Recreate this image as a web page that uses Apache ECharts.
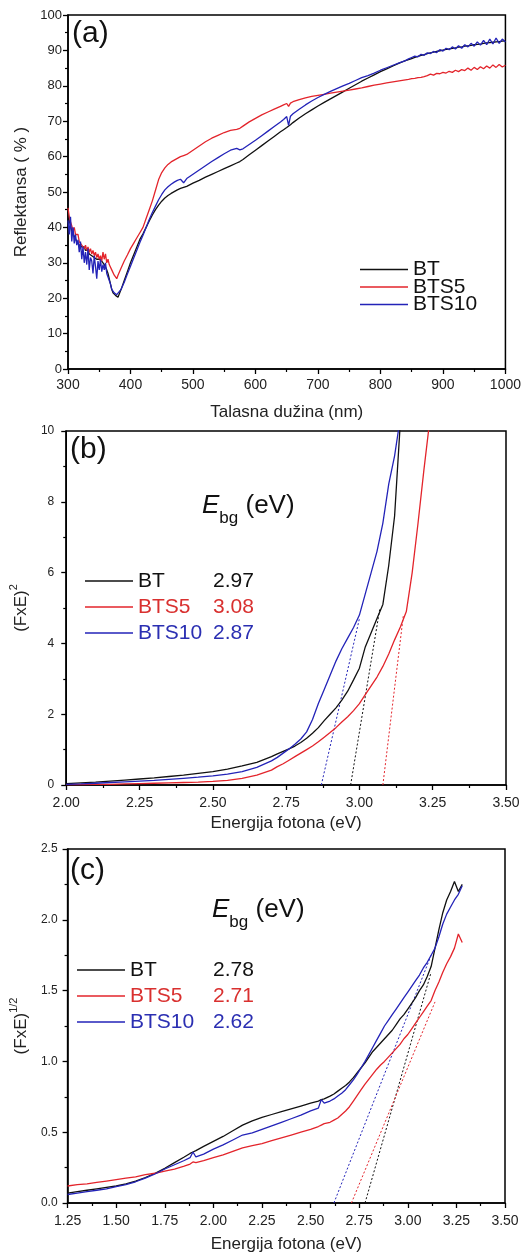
<!DOCTYPE html>
<html><head><meta charset="utf-8">
<script src="https://cdn.jsdelivr.net/npm/echarts@6.0.0/dist/echarts.min.js"></script>
<style>html,body{margin:0;padding:0;background:#fff}#c{width:524px;height:1254px}</style>
</head><body><div id="c"></div><script>
// ---------- Panel (a): Reflectance vs wavelength ----------
const aWave = [300,302,304,306,308,310,312,314,316,318,320,322,324,326,328,330,332,334,336,338,340,342,344,346,348,350,352,354,356,358,360,362,364,366,368,370,372,374,376,378,380,
385,390,395,400,405,410,415,420,425,430,435,440,445,450,455,460,465,470,475,480,
485,490,500,510,520,530,540,550,560,570,575,580,590,600,610,620,630,640,
645,650,653,656,660,670,680,690,700,710,720,730,740,750,760,770,780,790,800,810,820,830,840,
845,850,855,860,865,870,875,880,885,890,895,900,905,910,915,920,925,930,935,940,945,950,955,960,965,970,975,980,985,990,995,1000];
const aBT = [44,42,40.5,39,38.5,37.5,37,36,36.5,35,35.5,34.5,34,34.5,33.5,33,33.5,32.5,33,32,32.5,31.5,32,31,31.5,31,30.5,30.5,30,29.5,29,28,27,25.5,24,22.5,21.5,21,20.8,20.4,20.3,
22.5,25,27.5,30,32.2,34.4,36.6,38.2,40,41.8,43.5,45,46.3,47.4,48.3,49,49.6,50.1,50.6,51,
51.3,51.6,52.5,53.3,54.2,55,55.8,56.6,57.4,58.2,58.6,59.2,60.5,61.8,63.1,64.4,65.7,67,
67.6,68.2,68.6,69,69.6,70.9,72.1,73.2,74.3,75.3,76.3,77.3,78.3,79.3,80.3,81.3,82.2,83.1,84,84.8,85.6,86.4,87.1,
87.4,87.7,88,88.3,88.6,88.8,89.1,89.3,89.5,89.7,89.9,90.1,90.3,90.4,90.6,90.7,90.9,91,91.2,91.3,91.4,91.6,91.7,91.8,92,92.1,92.2,92.3,92.4,92.5,92.6,92.7];
const aBTS5 = [45.5,43,41.5,40.5,39,40,38,37.5,38,36,36.5,35,35.5,34,35,33.5,34.5,33,34,32.5,33.5,32,33,31.5,32.5,31,32,30.5,33,31,32.5,30,31,29.5,29,28,27.5,26.5,26,25.5,26.5,
28.5,30.5,32.2,34,35.5,37,38.5,40,42.5,45,47.5,50.5,53.5,55.5,56.8,57.8,58.5,59,59.5,60,
60.3,60.6,61.8,63,64.2,65.2,66,66.8,67.4,67.7,68,68.6,69.8,70.8,71.8,72.6,73.4,74.2,
74.6,75,74.2,75.1,75.5,76.1,76.6,77,77.3,77.6,77.9,78.2,78.5,78.8,79.1,79.4,79.8,80.2,80.5,80.8,81.1,81.4,81.7,
81.8,82,82.1,82.3,82.4,82.6,82.9,83.3,83,83.5,83.4,83.8,83.6,84.1,83.8,84.4,84,84.6,84.3,85,84.4,85.2,84.6,85.4,84.8,85.6,85,85.9,85.2,86,85.3,85.8];
const aBTS10 = [42,38,43,36,40,35.5,38,35,36.5,33,36,31,34.5,30,33,29.5,34,28,31.5,30.5,27,32,29,25.5,30.5,28,31,27.5,29.5,28,30,27,26,25,24,22.5,22,21.5,21.2,21,21.3,
22.5,24.5,26.8,29,31.3,33.5,35.7,37.8,40,42.2,44.2,46,47.8,49.3,50.6,51.5,52.2,52.8,53.3,53.6,
52.6,53.8,55,56.2,57.4,58.6,59.7,60.8,61.8,62.3,61.9,62.2,63.4,64.6,65.9,67.2,68.5,69.8,
70.5,71.3,68.8,71.4,72.1,73.4,74.6,75.7,76.7,77.6,78.4,79.2,80,80.7,81.5,82.3,82.9,83.6,84.4,85.1,85.8,86.5,87.1,
87.6,88,88.4,88.2,88.9,88.6,89.3,89.1,89.7,89.4,90.2,89.8,90.6,90.2,91,90.4,91.3,90.6,91.6,91,92,91.2,92.4,91.5,92.8,91.6,93.2,91.8,93.5,92,93.2,92.4];

// ---------- Panel (b): (FxE)^2 vs photon energy ----------
const bE = [2.00,2.05,2.10,2.15,2.20,2.25,2.30,2.35,2.40,2.45,2.50,2.55,2.60,2.65,2.70,
2.72,2.74,2.76,2.78,2.80,2.82,2.84,2.86,2.88,2.90,2.92,2.94,2.96,2.98,3.00,3.02,3.04,3.06,3.08,3.10,3.12,3.14,3.16,3.18,3.20,3.22,3.24];
const bBT = [0.04,0.06,0.08,0.11,0.14,0.17,0.2,0.24,0.28,0.33,0.38,0.45,0.54,0.64,0.8,
0.88,0.95,1.02,1.1,1.2,1.32,1.46,1.62,1.82,2.0,2.18,2.4,2.65,2.97,3.3,3.9,4.3,4.7,5.1,6.2,7.6,10.3,null,null,null,null,null];
const bBTS5 = [0.01,0.01,0.02,0.02,0.03,0.04,0.05,0.06,0.07,0.08,0.1,0.13,0.19,0.28,0.42,
0.52,0.6,0.7,0.8,0.9,1.0,1.1,1.22,1.35,1.48,1.62,1.78,1.93,2.1,2.3,2.55,2.8,3.05,3.35,3.7,4.1,4.47,4.9,6.0,7.4,8.9,10.3];
const bBTS10 = [0.02,0.03,0.05,0.07,0.09,0.11,0.13,0.16,0.19,0.22,0.26,0.31,0.38,0.5,0.68,
0.78,0.9,1.02,1.15,1.3,1.5,1.85,2.3,2.7,3.1,3.5,3.85,4.15,4.45,4.8,5.4,6.0,6.6,7.4,8.5,9.3,10.4,null,null,null,null,null];
const bGap = ['2.97','3.08','2.87'];
const bFitX_BT = [2.97, 3.07], bFitY_BT = [0, 5.0];
const bFitX_BTS5 = [3.08, 3.15], bFitY_BTS5 = [0, 4.8];
const bFitX_BTS10 = [2.87, 3.00], bFitY_BTS10 = [0, 4.7];

// ---------- Panel (c): (FxE)^1/2 vs photon energy ----------
const cE = [1.25,1.30,1.35,1.40,1.45,1.50,1.55,1.60,1.65,1.70,1.75,1.80,1.85,1.88,1.895,1.91,
1.95,2.00,2.05,2.10,2.15,2.20,2.25,2.30,2.35,2.40,2.45,2.50,2.54,2.555,2.57,
2.60,2.62,2.64,2.66,2.68,2.70,2.72,2.74,2.76,2.78,2.80,2.82,2.84,2.86,2.88,2.90,2.92,2.94,2.96,2.98,3.00,3.02,3.04,3.06,3.08,3.10,3.12,3.14,3.16,3.18,3.20,3.22,3.24,3.26,3.28];
const cBT = [0.07,0.08,0.09,0.1,0.11,0.12,0.135,0.155,0.18,0.21,0.245,0.285,0.325,0.35,0.36,0.37,
0.4,0.435,0.47,0.51,0.55,0.58,0.605,0.625,0.645,0.665,0.685,0.705,0.72,0.73,0.735,
0.755,0.77,0.79,0.81,0.83,0.855,0.885,0.92,0.955,0.99,1.03,1.07,1.1,1.13,1.16,1.19,1.22,1.26,1.3,1.33,1.37,1.41,1.45,1.5,1.54,1.6,1.67,1.8,1.93,2.05,2.14,2.2,2.27,2.2,2.25];
const cBTS5 = [0.12,0.13,0.135,0.145,0.155,0.165,0.175,0.185,0.2,0.21,0.225,0.24,0.26,0.275,0.29,0.285,
0.3,0.32,0.34,0.365,0.39,0.405,0.42,0.44,0.46,0.48,0.5,0.52,0.54,0.55,0.56,
0.57,0.585,0.6,0.625,0.65,0.68,0.72,0.76,0.8,0.84,0.875,0.91,0.945,0.975,1.0,1.03,1.06,1.09,1.12,1.16,1.19,1.23,1.27,1.31,1.35,1.39,1.43,1.5,1.56,1.63,1.69,1.74,1.8,1.9,1.84];
const cBTS10 = [0.06,0.07,0.08,0.09,0.1,0.115,0.13,0.15,0.175,0.205,0.24,0.27,0.3,0.32,0.36,0.325,
0.345,0.38,0.41,0.445,0.48,0.495,0.52,0.545,0.57,0.595,0.62,0.65,0.67,0.73,0.705,
0.72,0.735,0.755,0.775,0.8,0.835,0.87,0.91,0.955,1.0,1.05,1.1,1.15,1.2,1.25,1.29,1.33,1.37,1.41,1.45,1.49,1.53,1.57,1.61,1.66,1.7,1.75,1.8,1.88,1.97,2.04,2.09,2.14,2.18,2.24];
const cGap = ['2.78','2.71','2.62'];
const cFitX_BT = [2.78, 3.12], cFitY_BT = [0, 1.63];
const cFitX_BTS5 = [2.71, 3.14], cFitY_BTS5 = [0, 1.42];
const cFitX_BTS10 = [2.62, 3.12], cFitY_BTS10 = [0, 1.75];

const names = ['BT','BTS5','BTS10'];
const colors = {BT:'#111111', BTS5:'#e3242b', BTS10:'#2323b8'};
const textColors = {BT:'#111111', BTS5:'#d9302f', BTS10:'#2b2fb2'};
const FONT = 'Liberation Sans, Arial, sans-serif';

function pairs(xs, ys){ const o=[]; for(let i=0;i<xs.length;i++){ if(ys[i]!=null) o.push([xs[i], ys[i]]); } return o; }
function line(name, xs, ys, g, dashed){
  return {type:'line', name: dashed ? name+' fit' : name, xAxisIndex:g, yAxisIndex:g, data:pairs(xs,ys),
    symbol:'none', showSymbol:false, clip:true, silent:true, animation:false, z: dashed?1:2,
    lineStyle:{color:colors[name], width: dashed?1:1.3, type: dashed?[2,2]:'solid'}, itemStyle:{color:colors[name]}};
}
function xAx(g, min, max, interval, dec, nameGap, margin){
  return {type:'value', gridIndex:g, min, max, interval, name:'', nameLocation:'middle', nameGap,
    nameTextStyle:{fontSize:17, color:'#222', fontFamily:FONT},
    axisLine:{show:true, onZero:false, lineStyle:{color:'#000', width:1.5}},
    axisTick:{show:true, inside:false, length:5, lineStyle:{color:'#000', width:1.3}},
    minorTick:{show:true, splitNumber:2, length:3, lineStyle:{color:'#000', width:1.2}},
    splitLine:{show:false},
    axisLabel:{fontSize:14, color:'#222', margin, fontFamily:FONT, formatter: v => v.toFixed(dec)}};
}
function yAx(g, min, max, interval, dec, fs, nameGap, margin){
  return {type:'value', gridIndex:g, min, max, interval, nameLocation:'middle', nameGap,
    nameTextStyle:{fontSize:17, color:'#222', fontFamily:FONT},
    axisLine:{show:true, onZero:false, lineStyle:{color:'#000', width:1.5}},
    axisTick:{show:true, inside:false, length:5, lineStyle:{color:'#000', width:1.3}},
    minorTick:{show:true, splitNumber:2, length:3, lineStyle:{color:'#000', width:1.2}},
    splitLine:{show:false},
    axisLabel:{fontSize:fs, color:'#222', margin, fontFamily:FONT, formatter: v => v.toFixed(dec)}};
}
function gapLegend(left, top, vals, nameW){
  const m = {}; names.forEach((n,i)=> m[n]=vals[i]);
  return {orient:'vertical', left, top, padding:0, icon:'rect', itemWidth:48, itemHeight:1.5, itemGap:4, selectedMode:false,
    data: names.map(n => ({name:n, textStyle:{color:textColors[n]}})),
    formatter: n => '{n|'+n+'}{v|'+m[n]+'}',
    textStyle:{fontSize:21, lineHeight:22, fontFamily:FONT,
      rich:{n:{width:nameW, fontSize:21, fontFamily:FONT}, v:{fontSize:21, fontFamily:FONT}}}};
}
function ebg(x, y){
  return {type:'text', x, y, silent:true, style:{text:'{e|E}{s|bg}{t| (eV)}', fill:'#111',
    rich:{e:{fontSize:26, fontStyle:'italic', fontFamily:FONT, lineHeight:34, verticalAlign:'top'},
          s:{fontSize:17, fontFamily:FONT, lineHeight:14, verticalAlign:'bottom'},
          t:{fontSize:26, fontFamily:FONT, lineHeight:34, verticalAlign:'top'}}}};
}

const xa = xAx(0, 300, 1000, 100, 0, 35, 9); xa.name = 'Talasna dužina (nm)';
const xb = xAx(1, 2, 3.5, 0.25, 2, 30, 11); xb.name = 'Energija fotona (eV)';
const xc = xAx(2, 1.25, 3.5, 0.25, 2, 33, 11); xc.name = 'Energija fotona (eV)';
const ya = yAx(0, 0, 100, 10, 0, 13, 32, 6); ya.name = 'Reflektansa ( % )';
const yb = yAx(1, 0, 10, 2, 0, 12, 30, 12); yb.name = '{a|(FxE)}{b|2}';
const yc = yAx(2, 0, 2.5, 0.5, 1, 12, 30, 10); yc.name = '{a|(FxE)}{b|1/2}';
[yb, yc].forEach(y => { y.nameTextStyle.rich = {
  a:{fontSize:17, fontFamily:FONT, color:'#222', lineHeight:22, verticalAlign:'bottom'},
  b:{fontSize:11, fontFamily:FONT, color:'#222', lineHeight:11, verticalAlign:'top'}}; });

const gridBase = {show:true, borderColor:'#000', borderWidth:1.5, backgroundColor:'transparent', containLabel:false};
const option = {
  animation:false, backgroundColor:'#fff',
  textStyle:{fontFamily:FONT},
  grid:[
    Object.assign({left:68, top:15, width:438, height:354}, gridBase),
    Object.assign({left:64, top:431, width:442, height:354}, gridBase),
    Object.assign({left:63, top:849, width:442, height:354}, gridBase)
  ],
  xAxis:[xa, xb, xc],
  yAxis:[ya, yb, yc],
  legend:[
    {orient:'vertical', left:360, top:259, padding:0, icon:'rect', itemWidth:48, itemHeight:1.5, itemGap:-3.5, selectedMode:false,
     data:names, textStyle:{fontSize:21, lineHeight:21, color:'#111', fontFamily:FONT}},
    gapLegend(85, 570, bGap, 75),
    gapLegend(77, 959, cGap, 83)
  ],
  graphic:[
    {type:'text', x:72, y:19, silent:true, style:{text:'(a)', fontSize:30, fontFamily:FONT, fill:'#111'}},
    {type:'text', x:70, y:435, silent:true, style:{text:'(b)', fontSize:30, fontFamily:FONT, fill:'#111'}},
    {type:'text', x:70, y:856, silent:true, style:{text:'(c)', fontSize:30, fontFamily:FONT, fill:'#111'}},
    ebg(202, 493),
    ebg(212, 897)
  ],
  series:[
    line('BT', aWave, aBT, 0), line('BTS5', aWave, aBTS5, 0), line('BTS10', aWave, aBTS10, 0),
    line('BT', bFitX_BT, bFitY_BT, 1, true), line('BTS5', bFitX_BTS5, bFitY_BTS5, 1, true), line('BTS10', bFitX_BTS10, bFitY_BTS10, 1, true),
    line('BT', bE, bBT, 1), line('BTS5', bE, bBTS5, 1), line('BTS10', bE, bBTS10, 1),
    line('BT', cFitX_BT, cFitY_BT, 2, true), line('BTS5', cFitX_BTS5, cFitY_BTS5, 2, true), line('BTS10', cFitX_BTS10, cFitY_BTS10, 2, true),
    line('BT', cE, cBT, 2), line('BTS5', cE, cBTS5, 2), line('BTS10', cE, cBTS10, 2)
  ]
};
const chart = echarts.init(document.getElementById('c'), null, {renderer:'canvas'});
chart.setOption(option);
</script></body></html>
